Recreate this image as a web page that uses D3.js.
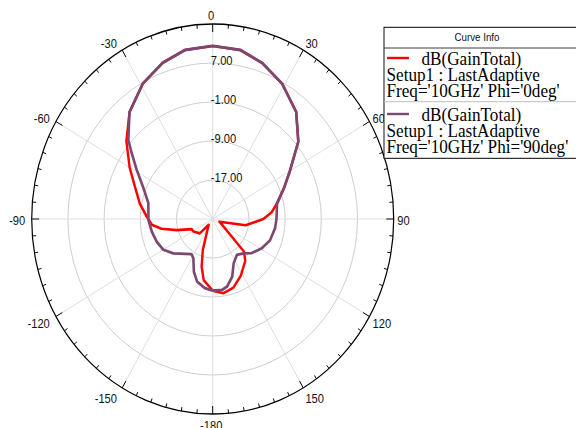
<!DOCTYPE html>
<html>
<head>
<meta charset="utf-8">
<script src="https://cdn.jsdelivr.net/npm/d3@7"></script>
<style>
  body { margin: 0; background: #fff; }
  svg { display: block; }
</style>
</head>
<body>
<svg id="chart" width="576" height="428"></svg>
<script>
// Gain cut for Phi = 0deg: theta (deg) and total gain (dB)
const phi0Theta = [-180,-171,-166,-161,-143,-136,-121,-114,-106,-100,-95,-88,-79,-69,-60,-50,-40,-29,-19,-10,0,10,19,29,40,50,60,68,76,84,90,100,110,134,140,152,162,171,180];
const phi0Gain  = [-10.3,-12.3,-14.9,-18.3,-23.5,-20.9,-20.0,-19.9,-16.7,-13.5,-11.5,-10.4,-8.6,-6.6,-3.8,-0.1,3.6,6.8,8.9,10.2,10.5,10.2,8.8,6.7,3.7,-0.3,-5.3,-8.0,-10.1,-11.9,-13.8,-17.6,-23.4,-15.4,-13.8,-11.8,-10.2,-9.6,-10.3];

// Gain cut for Phi = 90deg
const phi90Theta = [-180,-173,-165,-159,-152,-147,-129,-120,-111,-101,-91,-77,-67,-59,-53,-49,-40,-29,-19,-10,0,10,19,29,40,50,60,68,77,90,98,109,119,129,136,144,153,160,167,172,180];
const phi90Gain  = [-10.3,-10.7,-11.7,-13.4,-15.9,-16.4,-13.8,-12.4,-11.8,-11.3,-10.8,-10.4,-8.3,-5.4,-2.6,-0.3,3.6,6.8,8.9,10.2,10.5,10.2,8.8,6.7,3.7,-0.3,-5.3,-8.0,-10.4,-10.9,-11.1,-11.6,-12.6,-13.9,-15.2,-15.9,-14.8,-12.4,-10.8,-10.3,-10.3];

// Radial axis
const radialDomain = [-25, 15];
const ringValues = [-17, -9, -1, 7, 15];
const ringLabels = ["-17.00", "-9.00", "-1.00", "7.00"];

// Angular axis
const angleLabelValues = [0, 30, 60, 90, 120, 150, 180, -150, -120, -90, -60, -30];
const angleLabelText   = ["0", "30", "60", "90", "120", "150", "-180", "-150", "-120", "-90", "-60", "-30"];

// Legend
const legendTitle = "Curve Info";
const legendNames = ["dB(GainTotal)", "dB(GainTotal)"];
const legendSetup = ["Setup1 : LastAdaptive", "Setup1 : LastAdaptive"];
const legendFreq  = ["Freq='10GHz' Phi='0deg'", "Freq='10GHz' Phi='90deg'"];
const seriesColors = ["#ff0000", "#7b4870"];

// ---- layout ----
const sx = 181 / 195;          // horizontal squeeze of the whole plot
const R = 195;
const cx = 212.7 / sx, cy = 219;

const svg = d3.select("#chart");
const root = svg.append("g").attr("transform", `scale(${sx},1)`);
const plot = root.append("g").attr("transform", `translate(${cx},${cy})`);

const r = d3.scaleLinear().domain(radialDomain).range([0, R]);
const a = d3.scaleLinear().domain([-180, 180]).range([-Math.PI, Math.PI]);

// grid rings
plot.selectAll("circle.ring")
  .data(ringValues.slice(0, -1))
  .join("circle")
  .attr("class", "ring")
  .attr("r", d => r(d))
  .attr("fill", "none")
  .attr("stroke", "#cccccc")
  .attr("stroke-width", 1);

// spokes every 30 degrees
plot.selectAll("line.spoke")
  .data(d3.range(-180, 180, 30))
  .join("line")
  .attr("class", "spoke")
  .attr("x1", 0).attr("y1", 0)
  .attr("x2", d => R * Math.sin(a(d)))
  .attr("y2", d => -R * Math.cos(a(d)))
  .attr("stroke", "#dddddd")
  .attr("stroke-width", 1);

// outer boundary
plot.append("circle")
  .attr("r", R)
  .attr("fill", "none")
  .attr("stroke", "#000")
  .attr("stroke-width", 1.3);

// angular ticks (inward), major every 30, minor every 5
plot.selectAll("line.tick")
  .data(d3.range(-180, 180, 5))
  .join("line")
  .attr("class", "tick")
  .attr("x1", d => R * Math.sin(a(d)))
  .attr("y1", d => -R * Math.cos(a(d)))
  .attr("x2", d => (R - (d % 30 === 0 ? 8 : 4)) * Math.sin(a(d)))
  .attr("y2", d => -(R - (d % 30 === 0 ? 8 : 4)) * Math.cos(a(d)))
  .attr("stroke", "#000")
  .attr("stroke-width", 1);

// angular labels: right side start-aligned, left side end-aligned
plot.selectAll("text.ang")
  .data(angleLabelValues)
  .join("text")
  .attr("class", "ang")
  .attr("font-family", "Liberation Sans, Arial, sans-serif")
  .attr("font-size", 12)
  .attr("fill", "#111")
  .attr("dominant-baseline", "central")
  .each(function(d, i) {
    const s = Math.sin(a(d)), c = Math.cos(a(d));
    const tx = R * s, ty = -R * c;
    let x, anchor;
    if (s > 0.1) { anchor = "start"; x = tx + (1 + 2.5 * s) / sx; }
    else if (s < -0.1) { anchor = "end"; x = tx - (4 + 2.5 * Math.abs(s)) / sx; }
    else { anchor = "middle"; x = tx - 1.5 / sx; }
    d3.select(this)
      .attr("text-anchor", anchor)
      .attr("x", x)
      .attr("y", ty - 10 * c + 2.3)
      .text(angleLabelText[i]);
  });

// radial labels
plot.selectAll("text.rad")
  .data(ringLabels)
  .join("text")
  .attr("class", "rad")
  .attr("font-family", "Liberation Sans, Arial, sans-serif")
  .attr("font-size", 12)
  .attr("fill", "#111")
  .attr("x", -2)
  .attr("y", (d, i) => -r(ringValues[i]) + 2)
  .text(d => d);

// traces
const line = d3.lineRadial()
  .angle(d => a(d[0]))
  .radius(d => r(d[1]));

const series = [
  d3.zip(phi0Theta, phi0Gain),
  d3.zip(phi90Theta, phi90Gain)
];

plot.selectAll("path.trace")
  .data(series)
  .join("path")
  .attr("class", "trace")
  .attr("d", line)
  .attr("fill", "none")
  .attr("stroke", (d, i) => seriesColors[i])
  .attr("stroke-width", (d, i) => i === 0 ? 2.6 : 2.8)
  .attr("stroke-linejoin", "round");

// legend
const lg = root.append("g");
const lx0 = 384 / sx, lx1 = 600 / sx;
lg.append("rect")
  .attr("x", lx0).attr("y", 27.3)
  .attr("width", lx1 - lx0).attr("height", 131)
  .attr("fill", "#fff").attr("stroke", "#000").attr("stroke-width", 1);
lg.append("line")
  .attr("x1", lx0).attr("x2", lx1).attr("y1", 48).attr("y2", 48)
  .attr("stroke", "#333").attr("stroke-width", 1);
lg.append("line")
  .attr("x1", lx0).attr("x2", lx1).attr("y1", 101.7).attr("y2", 101.7)
  .attr("stroke", "#bbbbbb").attr("stroke-width", 1);
lg.append("text")
  .attr("x", 477 / sx).attr("y", 41)
  .attr("text-anchor", "middle")
  .attr("font-family", "Liberation Sans, Arial, sans-serif")
  .attr("font-size", 10.5)
  .attr("fill", "#111")
  .text(legendTitle);

const entryTop = [0, 56];
legendNames.forEach((name, i) => {
  const y0 = entryTop[i];
  lg.append("line")
    .attr("x1", 387 / sx).attr("x2", 409 / sx)
    .attr("y1", 58 + y0).attr("y2", 58 + y0)
    .attr("stroke", seriesColors[i]).attr("stroke-width", 2.4);
  const t = lg.append("g")
    .attr("font-family", "Liberation Serif, Times New Roman, serif")
    .attr("font-size", 18.5)
    .attr("fill", "#000");
  t.append("text").attr("x", 421.5 / sx).attr("y", 65 + y0).text(name);
  t.append("text").attr("x", 386.5 / sx).attr("y", 81.3 + y0).text(legendSetup[i]);
  t.append("text").attr("x", 386.5 / sx).attr("y", 97.5 + y0).text(legendFreq[i]);
});
</script>
</body>
</html>
